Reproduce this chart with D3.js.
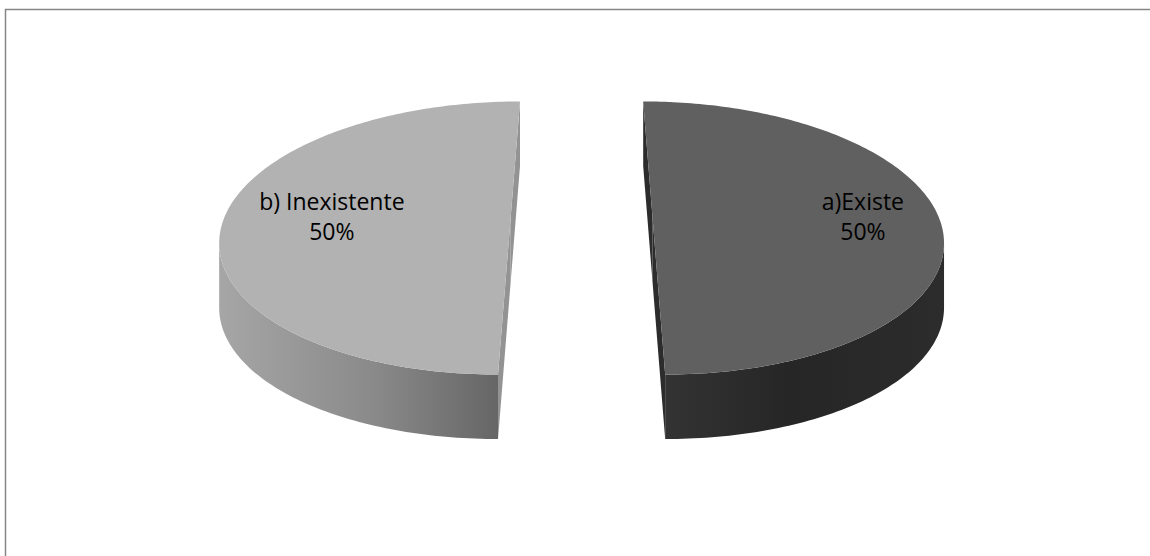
<!DOCTYPE html>
<html><head><meta charset="utf-8">
<script src="https://cdn.jsdelivr.net/npm/d3@7"></script>
<style>body{margin:0;background:#fff;overflow:hidden}</style>
</head><body>
<svg id="c" width="1150" height="556"></svg>
<script>
// ---- data ----
const categories = ["a)Existe", "b) Inexistente"];
const values = [50, 50];

// ---- styles ----
const topColors = ["#606060", "#b2b2b2"];
const radialColors = ["#2c2c2c", "#939393"];
const sideStops = [
  [["0%", "#333333"], ["45%", "#262626"], ["100%", "#2c2c2c"]],
  [["0%", "#a6a6a6"], ["55%", "#8a8a8a"], ["100%", "#666666"]]
];

const geo = {cx: 581.6, cy: 217.3, rx: 286.3, ry: 133.4, persp: 0.1515, explode: 0.2477, depth: 64.5};
function proj(X, Z, d) {
  const s = 1 / (1 + geo.persp * Z);
  return [geo.cx + X * geo.rx * s, geo.cy - Z * geo.ry * s + d * geo.depth];
}

const svg = d3.select("#c");
const defs = svg.append("defs");
svg.append("rect").attr("x", 5.5).attr("y", 9.5).attr("width", 1160).attr("height", 570)
  .attr("fill", "#fff").attr("stroke", "#868686").attr("stroke-width", 1.5);

const topColor = d3.scaleOrdinal().domain(categories).range(topColors);
const radialColor = d3.scaleOrdinal().domain(categories).range(radialColors);
const stopsOf = d3.scaleOrdinal().domain(categories).range(sideStops);

const data = categories.map((c, i) => ({cat: c, value: values[i]}));
const total = d3.sum(values);
const arcs = d3.pie().sort(null).value(d => d.value)(data);
const line = d3.line().curve(d3.curveLinear);
const pct = d3.format(".0%");

const g = svg.append("g");
arcs.forEach((a, k) => {
  const cat = a.data.cat;
  const mid = (a.startAngle + a.endAngle) / 2;
  const ox = geo.explode * Math.sin(mid), oz = geo.explode * Math.cos(mid);
  const pt = (t, r, d) => proj(ox + r * Math.sin(t), oz + r * Math.cos(t), d);
  const N = 180;
  const angles = d3.range(N + 1).map(i => a.startAngle + (a.endAngle - a.startAngle) * i / N);
  const topPts = angles.map(t => pt(t, 1, 0));
  const botPts = angles.map(t => pt(t, 1, 1));
  const sg = g.append("g");

  // radial faces
  [a.startAngle, a.endAngle].forEach(t => {
    sg.append("path")
      .attr("d", line([pt(t, 0, 0), pt(t, 1, 0), pt(t, 1, 1), pt(t, 0, 1)]) + "Z")
      .attr("fill", radialColor(cat));
  });

  // outer wall: visible where outline moves leftward (lower branch)
  const runs = [];
  let cur = null;
  for (let i = 0; i < N; i++) {
    const vis = topPts[i + 1][0] - topPts[i][0] < 0;
    if (vis) { if (!cur) { cur = [i, i + 1]; runs.push(cur); } else cur[1] = i + 1; }
    else cur = null;
  }
  const gid = "side" + k;
  let xs = [];
  runs.forEach(r => { for (let i = r[0]; i <= r[1]; i++) xs.push(topPts[i][0]); });
  const grad = defs.append("linearGradient").attr("id", gid)
    .attr("gradientUnits", "userSpaceOnUse")
    .attr("x1", d3.min(xs)).attr("x2", d3.max(xs)).attr("y1", 0).attr("y2", 0);
  stopsOf(cat).forEach(s => grad.append("stop").attr("offset", s[0]).attr("stop-color", s[1]));
  runs.forEach(r => {
    const poly = topPts.slice(r[0], r[1] + 1).concat(botPts.slice(r[0], r[1] + 1).reverse());
    sg.append("path").attr("d", line(poly) + "Z").attr("fill", "url(#" + gid + ")");
  });

  // top face
  sg.append("path")
    .attr("d", line([pt(0, 0, 0)].concat(topPts)) + "Z")
    .attr("fill", topColor(cat));

  // label
  const cyS = pt(0, 0, 0)[1];
  const txt = sg.append("text")
    .attr("font-family", "'Open Sans', sans-serif").attr("font-size", 23)
    .attr("fill", "#000").attr("text-anchor", "middle");
  const t1 = txt.append("tspan").attr("y", cyS - 7.3).text(cat);
  const t2 = txt.append("tspan").attr("y", cyS + 23).text(pct(a.data.value / total));
  const w = Math.max(t1.node().getComputedTextLength(), t2.node().getComputedTextLength());
  const inset = 40;
  const xsTop = topPts.map(p => p[0]);
  const right = Math.sin(mid) > 0;
  const xc = right ? d3.max(xsTop) - inset - w / 2 : d3.min(xsTop) + inset + w / 2;
  t1.attr("x", xc); t2.attr("x", xc);
});
</script>
</body></html>
